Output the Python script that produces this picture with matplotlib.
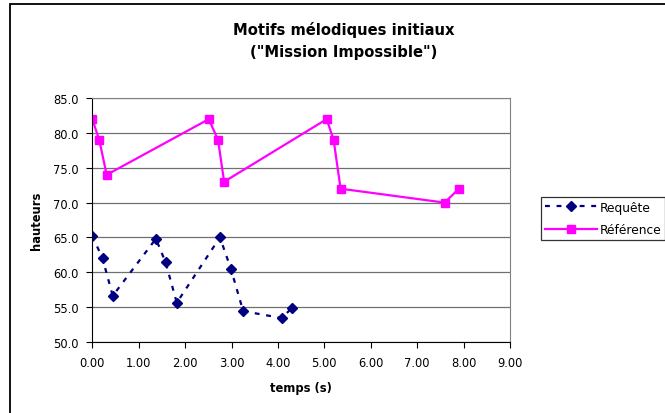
import matplotlib.pyplot as plt
from matplotlib.patches import Rectangle

plt.rcParams['font.family'] = ['DejaVu Sans']

# Requête
t_req = [0.00, 0.22, 0.44, 1.37, 1.58, 1.82, 2.75, 2.99, 3.25, 4.08, 4.31]
h_req = [65.2, 62.0, 56.6, 64.8, 61.4, 55.6, 65.0, 60.4, 54.4, 53.4, 54.9]

# Référence
t_ref = [0.00, 0.15, 0.31, 2.51, 2.71, 2.84, 5.05, 5.20, 5.35, 7.59, 7.90]
h_ref = [82.0, 79.0, 74.0, 82.0, 79.0, 73.0, 82.0, 79.0, 72.0, 70.0, 72.0]

xticks = [0, 1, 2, 3, 4, 5, 6, 7, 8, 9]
yticks = [50, 55, 60, 65, 70, 75, 80, 85]

W, H = 665, 414
fig = plt.figure(figsize=(W / 100, H / 100), dpi=100)

# chart border (cropped on right and bottom)
fig.patches.append(Rectangle((10 / W, -0.1), 1.2, 1 - 5 / H + 0.1, transform=fig.transFigure,
                             fill=False, edgecolor='black', lw=1.3))

ax = fig.add_axes([92.3 / W, 1 - 342.7 / H, (510 - 92.3) / W, (342.7 - 99.3) / H])

ax.plot(t_req, h_req, color='#000080', lw=1.6, dashes=(2.2, 3.0), marker='D',
        markersize=4.8, label='Requête')
ax.plot(t_ref, h_ref, color='#FF00FF', lw=1.6, marker='s', markersize=6,
        label='Référence')

ax.set_xlim(0, 9)
ax.set_ylim(50, 85)
ax.set_xticks(xticks)
ax.set_xticklabels([f'{v:.2f}' for v in xticks])
ax.set_yticks(yticks)
ax.set_yticklabels([f'{v:.1f}' for v in yticks])
ax.tick_params(labelsize=8.3, length=4, width=0.8, color='black', pad=6)
ax.yaxis.grid(True, color='#707070', lw=0.9)
ax.set_axisbelow(True)
for s in ['top', 'right']:
    ax.spines[s].set_color('#808080')
for s in ['left', 'bottom']:
    ax.spines[s].set_color('black')

ax.set_xlabel('temps (s)', fontsize=8.3, fontweight='bold', labelpad=9)
ax.set_ylabel('hauteurs', fontsize=8.3, fontweight='bold', labelpad=7)

fig.text(344 / W, 1 - 41 / H, 'Motifs mélodiques initiaux\n("Mission Impossible")',
         ha='center', va='center', fontsize=10.6, fontweight='bold', linespacing=1.5)

leg = fig.legend(loc='upper left', bbox_to_anchor=(541 / W, 1 - 198 / H), fontsize=8.8,
                 frameon=True, fancybox=False, edgecolor='black', borderpad=0.3,
                 handlelength=4.3, handletextpad=0.2, labelspacing=0.8, borderaxespad=0)
leg.get_frame().set_linewidth(0.9)

fig.savefig('out.png', dpi=100)
